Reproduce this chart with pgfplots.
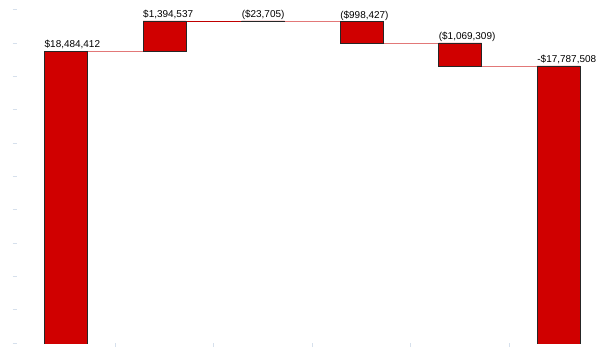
\documentclass[border=0pt]{standalone}
\usepackage{pgfplots}
\pgfplotsset{compat=1.18}
\usepackage{pgfplotstable}
\usepackage{fontspec}
\setmainfont{Liberation Sans}
\definecolor{barred}{RGB}{208,0,0}
\definecolor{linklight}{RGB}{226,120,120}
\definecolor{linkdark}{RGB}{192,0,0}
\definecolor{tickc}{RGB}{214,224,236}

\pgfplotstableread{
x base delta top label
0 0 18484412 18484412 {\$18,484,412}
1 18484412 1394537 19878949 {\$1,394,537}
2 19855244 23705 19878949 {(\$23,705)}
3 18856817 998427 19855244 {(\$998,427)}
4 17787508 1069309 18856817 {(\$1,069,309)}
5 0 17787508 17787508 {-\$17,787,508}
}\wf

\pgfplotsset{wfbase/.style={scale only axis, width=591.3bp, height=333bp,
  xmin=-0.5, xmax=5.5, ymin=4913677, ymax=20390187, scaled y ticks=false}}

\begin{document}
\begin{tikzpicture}
\begin{axis}[wfbase, hide axis, clip=false]
\addplot[linklight, line width=0.8bp] coordinates {(0,18484412) (1,18484412)};
\addplot[linkdark, line width=0.8bp] coordinates {(1,19878949) (2,19878949)};
\addplot[linklight, line width=0.8bp] coordinates {(2,19855244) (3,19855244)};
\addplot[linklight, line width=0.8bp] coordinates {(3,18856817) (4,18856817)};
\addplot[linklight, line width=0.8bp] coordinates {(4,17787508) (5,17787508)};
\addplot[draw=none, mark=none,
  nodes near coords, point meta=explicit symbolic,
  nodes near coords style={anchor=base west, xshift=-21.5bp, yshift=3bp,
    font=\fontsize{10}{12}\selectfont, text=black, inner sep=0pt}]
  table[x=x, y=top, meta=label] {\wf};
\end{axis}
\begin{axis}[wfbase, ybar stacked, bar width=43bp,
  axis line style={draw=none},
  clip mode=individual,
  xtick={0.5,1.5,2.5,3.5,4.5}, xticklabels={},
  ytick={4913677,6461328,8008979,9556630,11104281,12651932,14199583,15747234,17294885,18842536,20390187},
  yticklabels={},
  xtick pos=bottom, ytick pos=left,
  tick align=outside, major tick length=4bp,
  tick style={tickc, line width=1bp}]
\addplot[draw=none, fill=none, forget plot] table[x=x, y=base] {\wf};
\addplot[fill=barred, draw=black!85, line width=0.6bp] table[x=x, y=delta] {\wf};
\end{axis}
\pgfresetboundingbox
\path ([shift={(-16.7bp,-6bp)}]current axis.south west) rectangle ([shift={(3bp,10bp)}]current axis.north east);
\end{tikzpicture}
\end{document}
